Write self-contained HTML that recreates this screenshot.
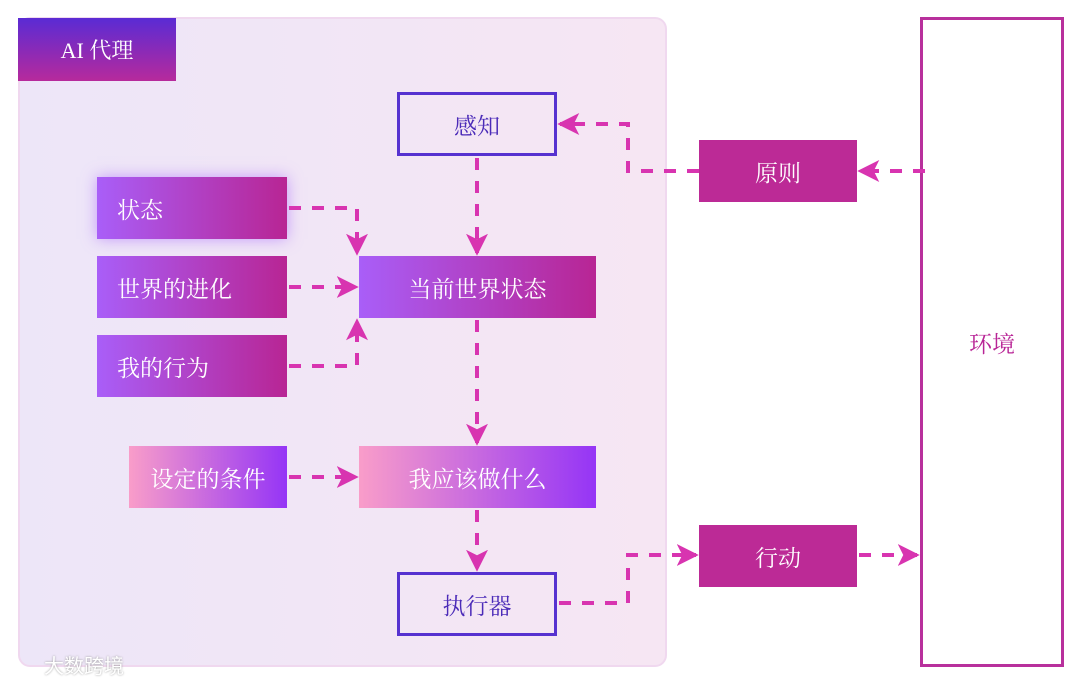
<!DOCTYPE html>
<html><head><meta charset="utf-8"><style>
html,body{margin:0;padding:0;background:#fff;}
body{width:1080px;height:684px;position:relative;overflow:hidden;font-family:"Liberation Serif","Noto Serif CJK SC",serif;}
.b{position:absolute;display:flex;align-items:center;box-sizing:border-box;color:#fff;font-size:23px;}
.c{justify-content:center;}
.l{padding-left:20px;}
.g1{background:linear-gradient(90deg,#a95ef8,#b82594);}
.g2{background:linear-gradient(90deg,#f99dc9,#9535f6);}
.o{border:3px solid #5632d0;color:#4b2bb8;background:transparent;}
.s{background:#bc2a96;}
</style></head><body>
<div style="position:absolute;left:18px;top:17px;width:649px;height:650px;box-sizing:border-box;border:2px solid #f0d8ef;border-radius:12px;background:linear-gradient(90deg,#ede6f8,#f6e6f3);"></div>
<div class="b c" style="left:18px;top:18px;width:158px;height:63px;background:linear-gradient(180deg,#5a2bd4,#b72a9c);font-size:22px;">AI 代理</div>
<div class="b c o" style="left:397px;top:92px;width:160px;height:64px;">感知</div>
<div class="b l g1" style="left:97px;top:177px;width:190px;height:62px;box-shadow:0 0 14px rgba(160,90,255,0.55);">状态</div>
<div class="b l g1" style="left:97px;top:256px;width:190px;height:62px;">世界的进化</div>
<div class="b l g1" style="left:97px;top:335px;width:190px;height:62px;">我的行为</div>
<div class="b c g1" style="left:359px;top:256px;width:237px;height:62px;">当前世界状态</div>
<div class="b c g2" style="left:129px;top:446px;width:158px;height:62px;">设定的条件</div>
<div class="b c g2" style="left:359px;top:446px;width:237px;height:62px;">我应该做什么</div>
<div class="b c o" style="left:397px;top:572px;width:160px;height:64px;">执行器</div>
<div class="b c s" style="left:699px;top:140px;width:158px;height:62px;">原则</div>
<div class="b c s" style="left:699px;top:525px;width:158px;height:62px;">行动</div>
<div class="b c" style="left:920px;top:17px;width:144px;height:650px;border:3px solid #b8309c;color:#b82496;background:#fff;">环境</div>
<svg width="1080" height="684" style="position:absolute;left:0;top:0;">
<defs><marker id="a" markerWidth="5.5" markerHeight="5.5" refX="7" refY="4" orient="auto" markerUnits="strokeWidth" viewBox="0 0 8 8"><path d="M0,0 L8,4 L0,8 L2,4 Z" fill="#d834b0"/></marker></defs>
<g fill="none" stroke="#d834b0" stroke-width="4" stroke-dasharray="12 11" marker-end="url(#a)">
<path d="M925,171 H860"/>
<path d="M699,171 H628 V124 H560"/>
<path d="M477,158 V253"/>
<path d="M289,208 H357 V253"/>
<path d="M289,287 H356"/>
<path d="M289,366 H357 V321"/>
<path d="M477,320 V443"/>
<path d="M289,477 H356"/>
<path d="M477,510 V569"/>
<path d="M559,603 H628 V555 H696"/>
<path d="M859,555 H917"/>
</g>
</svg>
<div style="position:absolute;left:44px;top:650px;color:#fff;font-size:20px;font-family:'Noto Sans CJK SC',sans-serif;text-shadow:0 0 2px #999;">大数跨境</div>
</body></html>
